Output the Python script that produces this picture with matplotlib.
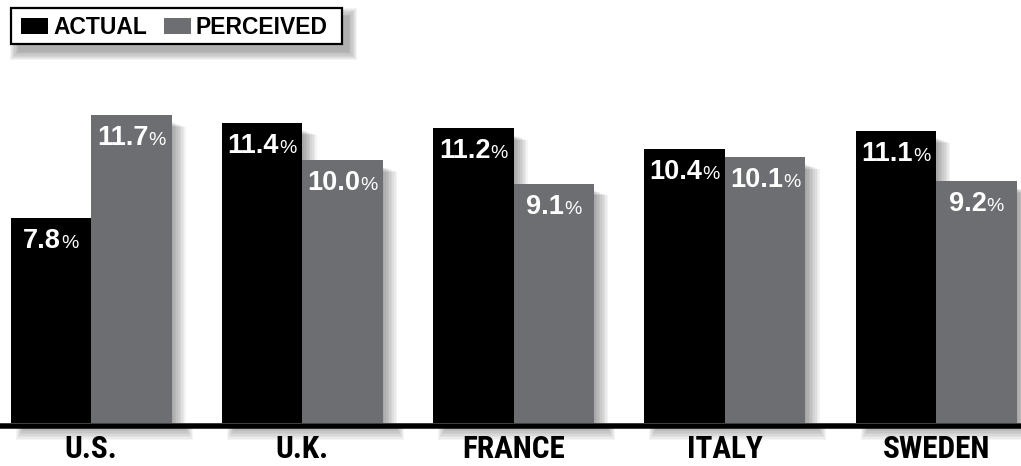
import matplotlib
matplotlib.use("Agg")
import matplotlib.pyplot as plt
from matplotlib.patches import Rectangle
from matplotlib.transforms import offset_copy
from matplotlib import font_manager
from matplotlib.font_manager import FontProperties

countries = ["U.S.", "U.K.", "FRANCE", "ITALY", "SWEDEN"]
actual = [7.8, 11.4, 11.2, 10.4, 11.1]
perceived = [11.7, 10.0, 9.1, 10.1, 9.2]
series_names = ["ACTUAL", "PERCEIVED"]

BLACK = "#000000"
GRAY = "#6d6e72"
W, H = 1021, 466
DPI = 100

flist = font_manager.fontManager.ttflist
names = {f.name for f in flist}
MAIN = "Liberation Sans" if "Liberation Sans" in names else "DejaVu Sans"

# look for a condensed bold face for the category labels
cond_path = None
prefs = [("liberation", "narrow"), ("roboto", "condensed"), ("open", "condensed"),
         ("noto", "condensed"), ("dejavu", "condensed")]
for fam, key in prefs:
    for f in flist:
        fn = f.fname.lower()
        if fam in fn and key in fn and "bold" in fn and "italic" not in fn \
                and "oblique" not in fn and "semi" not in fn and "extra" not in fn:
            cond_path = f.fname
            break
    if cond_path:
        break
if cond_path:
    CAT_FP = FontProperties(fname=cond_path, size=22.5)
else:
    CAT_FP = FontProperties(family=MAIN, weight="bold", size=20)

fig = plt.figure(figsize=(W / DPI, H / DPI), dpi=DPI)
PXY = 26.3            # pixels per data unit (y)
YMAX = 14
ax = fig.add_axes([0, 43 / H, 1, YMAX * PXY / H])
ax.set_xlim(-0.431, 4.402)
ax.set_ylim(0, YMAX)
ax.axis("off")
PXX = W / (4.402 + 0.431)  # pixels per x data unit
bw = 80.5 / PXX

def px_x(p):
    return p / PXX

def px_y(p):
    return p / PXY

# shadows for bars
for i in range(len(countries)):
    for xc, v in ((i - bw / 2, actual[i]), (i + bw / 2, perceived[i])):
        right = xc + bw / 2
        for k in range(9):
            ax.add_patch(Rectangle((right, 0), px_x(1.6 * (k + 1)),
                                   v - px_y(7 + k * 0.6), facecolor="black",
                                   alpha=0.045, lw=0, zorder=1))
    # shadow below the baseline
    left = i - bw + px_x(12)
    width = 2 * bw + px_x(2)
    for k in range(8):
        ax.add_patch(Rectangle((left - px_x(k), -px_y(5)), width + px_x(2 * k),
                               -px_y(1.5 * (k + 1)), facecolor="black",
                               alpha=0.04, lw=0, zorder=1, clip_on=False))

x = list(range(len(countries)))
ax.bar([i - bw / 2 for i in x], actual, width=bw, color=BLACK, zorder=3)
ax.bar([i + bw / 2 for i in x], perceived, width=bw, color=GRAY, zorder=3)

# baseline
ax.axhline(-px_y(2.8), color="black", lw=5.5 * 72 / DPI, zorder=4, clip_on=False)

# value labels
r = fig.canvas.get_renderer()
PCT = dict(fontsize=14, family=MAIN)
tmp = ax.text(0, 0, "%", **PCT)
wp = tmp.get_window_extent(r).width
tmp.remove()
gap = 0
for i in x:
    for xc, v in ((i - bw / 2, actual[i]), (i + bw / 2, perceived[i])):
        s = f"{v:.1f}"
        t = ax.text(xc, v, s, color="white", fontsize=19.5, fontweight="bold",
                    family=MAIN, ha="center", va="baseline", zorder=5)
        wn = t.get_window_extent(r).width
        t.set_transform(offset_copy(ax.transData, fig, x=-(wp + gap) / 2,
                                    y=-30, units="dots"))
        ax.text(xc, v, "%", color="white", ha="left", va="baseline", zorder=5,
                transform=offset_copy(ax.transData, fig,
                                      x=wn / 2 - (wp + gap) / 2 + gap,
                                      y=-30, units="dots"), **PCT)

# category labels
for i, c in enumerate(countries):
    ax.text(i, -px_y(458 - 423), c, ha="center", va="baseline",
            fontproperties=CAT_FP, fontweight="bold", clip_on=False)

# legend (figure pixel coordinates)
def fx(p):
    return p / W

def fy(p):
    return 1 - p / H

bx0, by0, bx1, by1 = 11, 8, 342, 44
for k in range(8):
    e = k * 1.2
    fig.patches.append(Rectangle((fx(bx0 + 7 - e), fy(by1 + 8 + e)),
                                 fx(bx1 - bx0 + 2 * e), (by1 - by0 + 2 * e) / H,
                                 transform=fig.transFigure, facecolor="black",
                                 alpha=0.045, lw=0, zorder=1))
fig.patches.append(Rectangle((fx(bx0), fy(by1)), fx(bx1 - bx0), (by1 - by0) / H,
                             transform=fig.transFigure, facecolor="white",
                             edgecolor="black", lw=1.6, zorder=2))
fig.patches.append(Rectangle((fx(21), fy(34)), fx(27), 16 / H,
                             transform=fig.transFigure, facecolor=BLACK, lw=0, zorder=3))
fig.text(fx(53), fy(34), series_names[0], fontsize=16.5, fontweight="bold",
         family=MAIN, va="baseline", ha="left", zorder=3)
fig.patches.append(Rectangle((fx(164), fy(34)), fx(27), 16 / H,
                             transform=fig.transFigure, facecolor=GRAY, lw=0, zorder=3))
fig.text(fx(195), fy(34), series_names[1], fontsize=16.5, fontweight="bold",
         family=MAIN, va="baseline", ha="left", zorder=3)

fig.savefig("out.png", dpi=DPI)
